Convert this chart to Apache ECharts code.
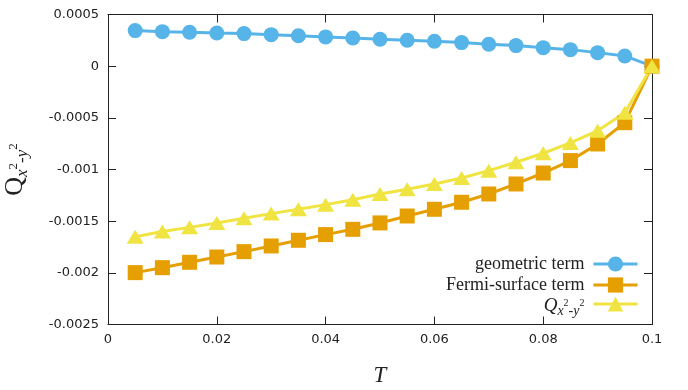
<!DOCTYPE html>
<html>
<head>
<meta charset="utf-8">
<script src="https://cdn.jsdelivr.net/npm/echarts@6/dist/echarts.min.js"></script>
<style>html,body{margin:0;padding:0;background:#fff}#c{width:688px;height:390px}</style>
</head>
<body>
<div id="c"></div>
<script>
var T = [0.005,0.01,0.015,0.02,0.025,0.03,0.035,0.04,0.045,0.05,0.055,0.06,0.065,0.07,0.075,0.08,0.085,0.09,0.095,0.1];
var geometric = [0.000344,0.000334,0.000328,0.000321,0.000315,0.000305,0.000295,0.000283,0.000273,0.000260,0.000251,0.000241,0.000228,0.000212,0.000199,0.000179,0.000160,0.000131,0.000099,0.0];
var fermi = [-0.001998,-0.00195,-0.001898,-0.001847,-0.001795,-0.00174,-0.001685,-0.00163,-0.001579,-0.001517,-0.00145,-0.001385,-0.001317,-0.001237,-0.00114,-0.001034,-0.000914,-0.000753,-0.000547,0.0];
var qtotal = [-0.00165,-0.0016,-0.00156,-0.001517,-0.001472,-0.001427,-0.001385,-0.00134,-0.001292,-0.001238,-0.001192,-0.00114,-0.001082,-0.001011,-0.00093,-0.000843,-0.000743,-0.000624,-0.00045,0.0];
var seriesNames = ['geometric term','Fermi-surface term','Q'];
var xTicks = ['0','0.02','0.04','0.06','0.08','0.1'];
var yTicks = ['-0.0025','-0.002','-0.0015','-0.001','-0.0005','0','0.0005'];

function pairs(ys){ return ys.map(function(y,i){ return [T[i], y]; }); }

var chart = echarts.init(document.getElementById('c'), null, {renderer:'canvas'});
var tickFont = {fontFamily:'DejaVu Sans', fontSize:13, color:'#222'};
var qRich = {
  q:{fontFamily:'Liberation Serif', fontStyle:'italic', fontSize:19, lineHeight:20, verticalAlign:'top', padding:[2,0,0,0], color:'#222'},
  s:{fontFamily:'Liberation Serif', fontStyle:'italic', fontSize:14, lineHeight:14, verticalAlign:'top', padding:[10,0,0,0], color:'#222'},
  p:{fontFamily:'Liberation Serif', fontSize:10, lineHeight:10, verticalAlign:'top', padding:[4,0,0,0], color:'#222'}
};
var yRich = {
  q:{fontFamily:'Liberation Serif', fontSize:26, lineHeight:27, verticalAlign:'top', padding:[0,0,0,0], color:'#222'},
  s:{fontFamily:'Liberation Serif', fontStyle:'italic', fontSize:17, lineHeight:17, verticalAlign:'top', padding:[12,0,0,0], color:'#222'},
  p:{fontFamily:'Liberation Serif', fontSize:13, lineHeight:13, verticalAlign:'top', padding:[5,0,0,0], color:'#222'}
};
function legendCfg(name, top){
  return {
    data:[name], orient:'vertical', align:'right', right:49, top:top, padding:0,
    itemWidth:44, itemHeight:19, itemGap:0, selectedMode:false,
    lineStyle:{width:3},
    textStyle:{fontFamily:'Liberation Serif', fontSize:18, color:'#222', padding:[0,4,0,0], rich:qRich},
    formatter:function(n){ return n === 'Q' ? '{q|Q}{s|x}{p|2}{s|-y}{p|2}' : n; }
  };
}
var axisLine = {show:true, onZero:false, lineStyle:{color:'#222', width:1}};
chart.setOption({
  animation:false,
  grid:{left:108, right:36, top:14.5, bottom:65.5, outerBoundsMode:'none', containLabel:false},
  legend:[legendCfg(seriesNames[0], 255), legendCfg(seriesNames[1], 276), legendCfg(seriesNames[2], 294)],
  xAxis:[{
    type:'value', min:0, max:0.1, interval:0.02, position:'bottom',
    axisLine:axisLine, axisTick:{inside:true, length:8, lineStyle:{color:'#222'}},
    splitLine:{show:false},
    axisLabel:Object.assign({margin:9, formatter:function(v){ return xTicks[Math.round(v/0.02)]; }}, tickFont),
    name:'T', nameLocation:'middle', nameGap:40,
    nameTextStyle:{fontFamily:'Liberation Serif', fontStyle:'italic', fontSize:23, color:'#222'}
  },{
    type:'value', min:0, max:0.1, interval:0.02, position:'top',
    axisLine:axisLine, axisTick:{inside:true, length:8, lineStyle:{color:'#222'}},
    axisLabel:{show:false}, splitLine:{show:false}
  }],
  yAxis:[{
    type:'value', min:-0.0025, max:0.0005, interval:0.0005, position:'left',
    axisLine:axisLine, axisTick:{inside:true, length:8, lineStyle:{color:'#222'}},
    splitLine:{show:false},
    axisLabel:Object.assign({margin:9, formatter:function(v){ return yTicks[Math.round((v+0.0025)/0.0005)]; }}, tickFont),
    name:'{q|Q}{s|x}{p|2}{s|-y}{p|2}', nameLocation:'middle', nameGap:79, nameRotate:90,
    nameTextStyle:{rich:yRich}
  },{
    type:'value', min:-0.0025, max:0.0005, interval:0.0005, position:'right',
    axisLine:axisLine, axisTick:{inside:true, length:8, lineStyle:{color:'#222'}},
    axisLabel:{show:false}, splitLine:{show:false}
  }],
  series:[
    {name:seriesNames[0], type:'line', data:pairs(geometric), symbol:'circle', symbolSize:15,
     lineStyle:{width:3, color:'#56b4e9'}, itemStyle:{color:'#56b4e9'}},
    {name:seriesNames[1], type:'line', data:pairs(fermi), symbol:'rect', symbolSize:15,
     lineStyle:{width:3, color:'#e69f00'}, itemStyle:{color:'#e69f00'}},
    {name:seriesNames[2], type:'line', data:pairs(qtotal), symbol:'triangle', symbolSize:[17,14],
     lineStyle:{width:3, color:'#f0e442'}, itemStyle:{color:'#f0e442'}}
  ]
});
</script>
</body>
</html>
